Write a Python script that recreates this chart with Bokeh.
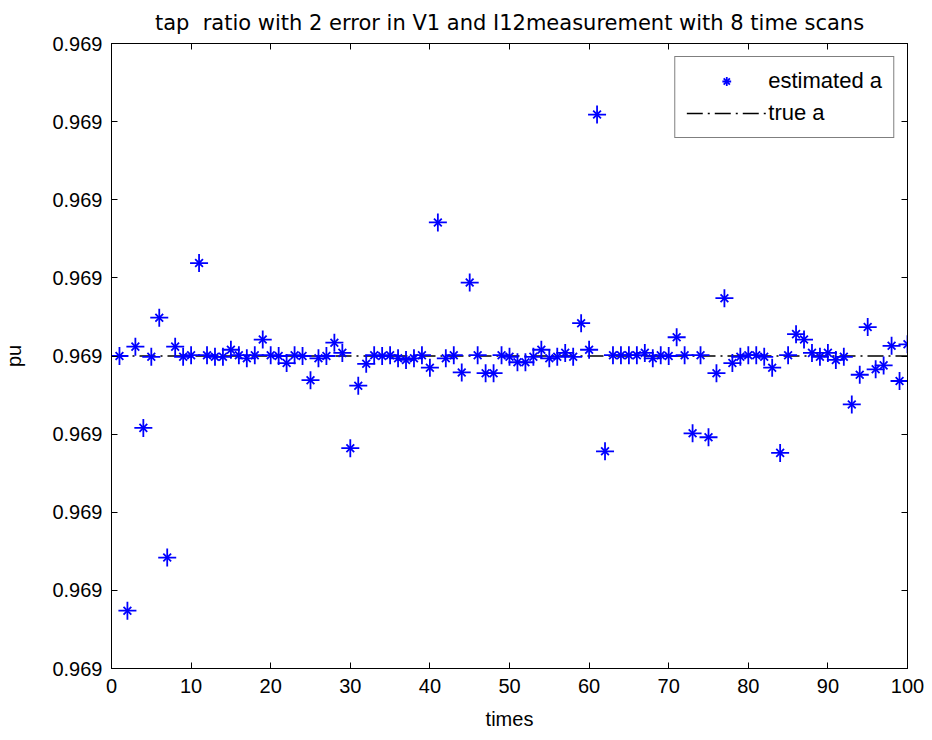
from bokeh.plotting import figure
from bokeh.models import (Range1d, FixedTicker, LinearAxis, CustomJSTickFormatter,
                          Legend, LegendItem, PrintfTickFormatter)
from bokeh.embed import file_html
from bokeh.resources import INLINE

# ---- data ----
times = list(range(1, 101))
estimated_a = [
    0.969000, 0.968674, 0.969012, 0.968908, 0.968999, 0.969049, 0.968742, 0.969012, 0.968999, 0.969001,
    0.969119, 0.969001, 0.968999, 0.968999, 0.969008, 0.969001, 0.968997, 0.969001, 0.969021, 0.969001,
    0.969000, 0.968991, 0.969001, 0.969000, 0.968969, 0.968997, 0.969000, 0.969017, 0.969004, 0.968882,
    0.968962, 0.968990, 0.969001, 0.969000, 0.969001, 0.968997, 0.968995, 0.968997, 0.969001, 0.968985,
    0.969171, 0.968997, 0.969001, 0.968979, 0.969094, 0.969001, 0.968978, 0.968978, 0.969001, 0.968999,
    0.968992, 0.968992, 0.968999, 0.969008, 0.968997, 0.968999, 0.969004, 0.968999, 0.969042, 0.969008,
    0.969309, 0.968878, 0.969001, 0.969001, 0.969001, 0.969001, 0.969004, 0.968997, 0.969001, 0.969000,
    0.969024, 0.969001, 0.968901, 0.969001, 0.968896, 0.968978, 0.969074, 0.968991, 0.968999, 0.969001,
    0.969001, 0.968999, 0.968985, 0.968876, 0.969001, 0.969028, 0.969021, 0.969004, 0.968999, 0.969004,
    0.968995, 0.968999, 0.968938, 0.968976, 0.969037, 0.968983, 0.968988, 0.969013, 0.968968, 0.969015,
]
true_x = [0, 100]
true_a = [0.969, 0.969]
x_ticks = [0, 10, 20, 30, 40, 50, 60, 70, 80, 90, 100]
y_ticks = [0.9686, 0.9687, 0.9688, 0.9689, 0.9690, 0.9691, 0.9692, 0.9693, 0.9694]

title_text = "tap\u00a0 ratio with 2 error in V1 and I12measurement with 8 time scans"
FONT = "Liberation Sans"
FS = "20px"

p = figure(width=932, height=740, output_backend="svg", toolbar_location=None,
           x_range=Range1d(0, 100), y_range=Range1d(y_ticks[0], y_ticks[-1]),
           min_border_left=110, min_border_right=25, min_border_top=43, min_border_bottom=72,
           background_fill_color="white", border_fill_color="white")

p.title.text = title_text
p.title.align = "center"
p.title.vertical_align = "top"
p.title.standoff = 14
p.title.text_font = "DejaVu Sans"
p.title.text_font_size = "21px"
p.title.text_font_style = "normal"
p.title.text_color = "black"

p.grid.visible = False
p.outline_line_color = "black"
p.outline_line_width = 1

for ax in (p.xaxis[0], p.yaxis[0]):
    ax.major_tick_in = 6
    ax.major_tick_out = 0
    ax.minor_tick_line_color = None
    ax.axis_line_color = "black"
    ax.major_tick_line_color = "black"
    ax.major_label_text_font = FONT
    ax.major_label_text_font_size = FS
    ax.major_label_text_color = "black"
    ax.axis_label_text_font = FONT
    ax.axis_label_text_font_size = FS
    ax.axis_label_text_font_style = "normal"
    ax.axis_label_text_color = "black"

p.xaxis[0].ticker = FixedTicker(ticks=x_ticks)
p.yaxis[0].ticker = FixedTicker(ticks=y_ticks)
p.yaxis[0].formatter = PrintfTickFormatter(format="%.3f")
p.xaxis[0].axis_label = "times"
p.yaxis[0].axis_label = "pu"
p.xaxis[0].major_label_standoff = 10
p.yaxis[0].major_label_standoff = 9
p.xaxis[0].axis_label_standoff = 12
p.yaxis[0].axis_label_standoff = 24

empty = CustomJSTickFormatter(code="return ''")
top = LinearAxis(ticker=FixedTicker(ticks=x_ticks), formatter=empty,
                 major_tick_in=6, major_tick_out=0, minor_tick_line_color=None,
                 major_label_standoff=0, major_label_text_font_size="1px")
right = LinearAxis(ticker=FixedTicker(ticks=y_ticks), formatter=empty,
                   major_tick_in=6, major_tick_out=0, minor_tick_line_color=None,
                   major_label_standoff=0, major_label_text_font_size="1px")
p.add_layout(top, "above")
p.add_layout(right, "right")

# true line
r_true = p.line(true_x, true_a, line_color="black", line_width=1.3, line_dash="16 5 2 5")
# 8-point asterisk = cross + x
r_c = p.scatter(times, estimated_a, marker="cross", size=18, line_color="blue", line_width=1.8)
r_x = p.scatter(times, estimated_a, marker="x", size=11, line_color="blue", line_width=1.8)

legend = Legend(items=[LegendItem(label="estimated a", renderers=[r_c, r_x]),
                       LegendItem(label="true a", renderers=[r_true])],
                location="top_right", glyph_width=80, glyph_height=22,
                label_standoff=2, padding=11, spacing=6, margin=13,
                label_text_font=FONT, label_text_font_size="22px", label_text_color="black",
                label_height=22,
                border_line_color="black", border_line_width=1.2,
                background_fill_alpha=1.0)
p.add_layout(legend)

open("out.html", "w").write(file_html(p, INLINE))
